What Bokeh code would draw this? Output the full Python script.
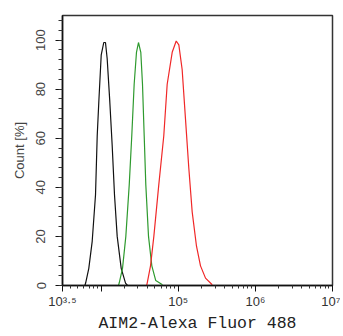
import numpy as np
from bokeh.plotting import figure
from bokeh.models import FixedTicker, Range1d
from bokeh.embed import file_html
from bokeh.resources import INLINE

# ---- data (log10 of fluorescence, count %) ----
black_log = [3.79, 3.80, 3.841, 3.885, 3.928, 3.950, 3.971, 4.002, 4.035, 4.057, 4.079,
             4.113, 4.144, 4.174, 4.209, 4.261, 4.317, 4.343]
black_cnt = [0.0, 1.0, 7, 18, 37, 61, 75, 94, 99, 99, 92.5, 75, 57, 37, 20, 7, 1, 0.0]

green_log = [4.225, 4.235, 4.278, 4.321, 4.365, 4.398, 4.429, 4.459, 4.485, 4.515, 4.537,
             4.559, 4.580, 4.615, 4.658, 4.709, 4.796]
green_cnt = [0.0, 1, 7, 20, 41, 61, 82, 95, 99, 95, 82, 61, 41, 20, 8, 2, 0.3]

red_log = [4.59, 4.598, 4.641, 4.684, 4.748, 4.813, 4.857, 4.922, 4.974, 5.008, 5.051,
           5.094, 5.137, 5.181, 5.237, 5.289, 5.354, 5.441]
red_cnt = [0.0, 1, 8, 20, 41, 61, 82, 95, 99.6, 98, 88, 68, 48, 30, 16, 8, 3, 0.3]

x_tick_exps = [3.5, 4, 5, 6, 7]
x_tick_labels = ["10\u00b3\u00b7\u2075", "", "10\u2075", "10\u2076", "10\u2077"]
y_ticks = [0, 20, 40, 60, 80, 100]

x_range = (10 ** 3.5, 10 ** 7)
y_range = (0, 110)

p = figure(width=340, height=336, x_axis_type="log",
           x_range=Range1d(*x_range), y_range=Range1d(*y_range),
           output_backend="svg", toolbar_location=None,
           min_border_left=62, min_border_top=15, min_border_right=8, min_border_bottom=51)

p.background_fill_color = "white"
p.border_fill_color = "white"
p.grid.visible = False
p.outline_line_color = "#333333"
p.outline_line_width = 1.5

p.line(10 ** np.array(black_log), black_cnt, line_color="#111111", line_width=1.2)
p.line(10 ** np.array(green_log), green_cnt, line_color="#2e9a2e", line_width=1.2)
p.line(10 ** np.array(red_log), red_cnt, line_color="#f02828", line_width=1.2)

# x axis
major = [10 ** e if e != int(e) else int(10 ** e) for e in x_tick_exps]
minor = []
for e in range(3, 7):
    for k in range(2, 10):
        v = k * 10 ** e
        if x_range[0] < v < x_range[1]:
            minor.append(v)
p.xaxis.ticker = FixedTicker(ticks=major, minor_ticks=minor)
p.xaxis.major_label_overrides = {m: lab for m, lab in zip(major, x_tick_labels)}
p.xaxis.axis_label = "AIM2-Alexa Fluor 488"
p.xaxis.axis_label_text_font = "Liberation Mono"
p.xaxis.axis_label_text_font_size = "16.5px"
p.xaxis.axis_label_text_font_style = "normal"
p.xaxis.axis_label_text_color = "#222222"
p.xaxis.axis_label_standoff = 2
p.xaxis.major_label_text_font = "Liberation Sans"
p.xaxis.major_label_text_font_size = "13px"
p.xaxis.major_label_text_color = "#333333"
p.xaxis.major_label_standoff = 2
p.xaxis.major_tick_out = 6
p.xaxis.major_tick_in = 0
p.xaxis.minor_tick_out = 3
p.xaxis.minor_tick_in = 0

# y axis
p.yaxis.ticker = FixedTicker(ticks=y_ticks,
                             minor_ticks=[v for v in range(0, 111, 4)])
p.yaxis.axis_label = "Count [%]"
p.yaxis.axis_label_text_font = "Liberation Sans"
p.yaxis.axis_label_text_font_size = "13px"
p.yaxis.axis_label_text_font_style = "normal"
p.yaxis.axis_label_text_color = "#444444"
p.yaxis.axis_label_standoff = 7
p.yaxis.major_label_orientation = "vertical"
p.yaxis.major_label_text_font = "Liberation Sans"
p.yaxis.major_label_text_font_size = "13px"
p.yaxis.major_label_text_color = "#444444"
p.yaxis.major_label_standoff = 10
p.yaxis.major_tick_out = 7
p.yaxis.major_tick_in = 0
p.yaxis.minor_tick_out = 4
p.yaxis.minor_tick_in = 0

for ax in (p.xaxis, p.yaxis):
    ax.axis_line_color = "#111111"
    ax.axis_line_width = 1.5
    ax.major_tick_line_color = "#111111"
    ax.minor_tick_line_color = "#333333"

open("out.html", "w").write(file_html(p, INLINE))
